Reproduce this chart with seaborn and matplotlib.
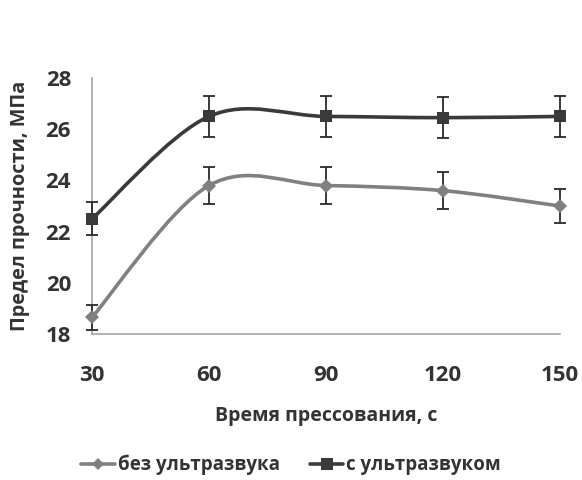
import numpy as np
import pandas as pd
import matplotlib
matplotlib.use("Agg")
import matplotlib.pyplot as plt
from matplotlib.path import Path
from matplotlib.patches import PathPatch
from matplotlib.lines import Line2D
import seaborn as sns

time_s = [30, 60, 90, 120, 150]
without_us = [18.65, 23.8, 23.8, 23.6, 23.0]
without_us_err = [0.5, 0.72, 0.72, 0.72, 0.66]
with_us = [22.5, 26.5, 26.5, 26.45, 26.5]
with_us_err = [0.65, 0.8, 0.8, 0.8, 0.8]
series_names = ["без ультразвука", "с ультразвуком"]
y_ticks = [18, 20, 22, 24, 26, 28]
x_label = "Время прессования, с"
y_label = "Предел прочности, МПа"

sns.set_theme(style="white")
plt.rcParams['font.family'] = ['Open Sans', 'DejaVu Sans']

text_color = "#333333"
spine_color = "#a6a6a6"
colors = ["#808080", "#3a3a3a"]
markers = ["D", "s"]
msizes = [7, 9]

df = pd.DataFrame({
    "time": time_s * 2,
    "value": without_us + with_us,
    "err": without_us_err + with_us_err,
    "series": [series_names[0]] * 5 + [series_names[1]] * 5,
})

fig = plt.figure(figsize=(5.82, 4.8), dpi=100)
ax = fig.add_axes([92/582, 1 - 334/480, (560-92)/582, (334-78)/480])


def smooth_path(xs, ys):
    pts = np.column_stack([xs, ys]).astype(float)
    n = len(pts)
    verts = [pts[0]]
    codes = [Path.MOVETO]
    for i in range(n - 1):
        p0 = pts[i - 1] if i > 0 else pts[i]
        p1 = pts[i]
        p2 = pts[i + 1]
        p3 = pts[i + 2] if i + 2 < n else pts[i + 1]
        c1 = p1 + (p2 - p0) / 6.0
        c2 = p2 - (p3 - p1) / 6.0
        verts += [c1, c2, p2]
        codes += [Path.CURVE4] * 3
    return Path(verts, codes)


for k, name in enumerate(series_names):
    sub = df[df["series"] == name]
    patch = PathPatch(smooth_path(sub["time"].values, sub["value"].values),
                      fill=False, edgecolor=colors[k], linewidth=2.6,
                      zorder=2, clip_on=False)
    ax.add_patch(patch)
    ax.errorbar(sub["time"], sub["value"], yerr=sub["err"], fmt="none",
                ecolor="#2a2a2a", elinewidth=1.3, capsize=4, capthick=1.3,
                zorder=3, clip_on=False)

sns.lineplot(data=df, x="time", y="value", hue="series", style="series",
             palette=colors, markers=dict(zip(series_names, markers)),
             dashes=False, linewidth=0, markersize=8, markeredgewidth=0,
             legend=False, ax=ax, zorder=4)
for ln in ax.lines:
    ln.set_clip_on(False)
    if ln.get_marker() == "s":
        ln.set_markersize(msizes[1])
    elif ln.get_marker() == "D":
        ln.set_markersize(msizes[0])

ax.set_xlim(30, 150)
ax.set_ylim(18, 28)
ax.set_xticks(time_s)
ax.set_yticks(y_ticks)
for s in ["top", "right"]:
    ax.spines[s].set_visible(False)
for s in ["left", "bottom"]:
    ax.spines[s].set_color(spine_color)
    ax.spines[s].set_linewidth(1.2)
ax.tick_params(axis="both", which="major", direction="out", color=spine_color,
               width=1.2, labelcolor=text_color, labelsize=16)
ax.tick_params(axis="x", length=6, pad=16)
ax.tick_params(axis="y", length=6, pad=9)
for lab in ax.get_xticklabels() + ax.get_yticklabels():
    lab.set_fontweight("bold")

ax.set_xlabel(x_label, fontsize=14, fontweight="bold", color=text_color, labelpad=15)
ax.set_ylabel(y_label, fontsize=14.3, fontweight="bold", color=text_color, labelpad=11)

handles = [Line2D([], [], color=colors[k], marker=markers[k], markersize=msizes[k] - 1,
                  linewidth=2.6, markeredgewidth=0) for k in range(2)]
fig.legend(handles, series_names, loc="center", bbox_to_anchor=(0.5, 1 - 465/480),
           ncol=2, frameon=False, handlelength=1.8, handletextpad=0.15,
           columnspacing=1.6, borderpad=0.1, prop={"weight": "bold", "size": 13.5})
for t in fig.legends[0].get_texts():
    t.set_color(text_color)

fig.savefig("out.png", dpi=100)
